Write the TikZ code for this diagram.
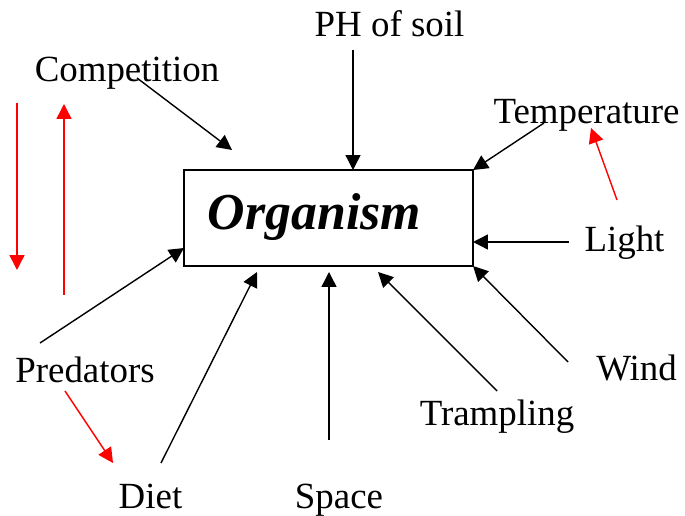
\documentclass[tikz,border=0pt]{standalone}
\usepackage{fontspec}
\setmainfont{Liberation Serif}
\usetikzlibrary{arrows.meta}
\definecolor{ecRed}{HTML}{FF0000}

\begin{document}
\begin{tikzpicture}[x=0.02cm,y=-0.02cm,
      lbl/.style={inner sep=0pt,anchor=base,font=\fontsize{21}{24}\selectfont},
      fac/.style={-{Triangle[length=8.5pt,width=8.5pt]},line width=0.8pt},
      back/.style={-{Triangle[length=8.5pt,width=8.5pt]},line width=0.8pt,ecRed}]
    \useasboundingbox (0,0) rectangle (685,516);

    % the organism in the middle
    \node[draw,line width=0.9pt,minimum width=5.78cm,minimum height=1.92cm,
          inner sep=0pt] (org) at (328.5,218) {};
    \node[inner sep=0pt,anchor=base,font=\fontsize{29.5}{32}\selectfont\bfseries\itshape]
          (orgtxt) at (314.5,230) {Organism};

    % factors around it
    \node[lbl] (comp) at (127,82)    {Competition};
    \node[lbl] (ph)   at (389.5,37)  {PH of soil};
    \node[lbl] (temp) at (586.5,124) {Temperature};
    \node[lbl] (lgt)  at (624.5,252) {Light};
    \node[lbl] (pred) at (85,382)    {Predators};
    \node[lbl] (wind) at (636.5,380) {Wind};
    \node[lbl] (tram) at (497,425)   {Trampling};
    \node[lbl] (diet) at (150.5,508) {Diet};
    \node[lbl] (spc)  at (339,508)   {Space};

    % arrow ends
    \coordinate (compT) at (137,78);  \coordinate (compH) at (232,150);
    \coordinate (phT)   at (353,50);  \coordinate (phH)   at (353,170);
    \coordinate (tempT) at (544,123); \coordinate (tempH) at (473,170);
    \coordinate (lgtT)  at (569,242); \coordinate (lgtH)  at (473,242);
    \coordinate (windT) at (568,362); \coordinate (windH) at (473,266);
    \coordinate (tramT) at (497,391); \coordinate (tramH) at (378,272);
    \coordinate (spcT)  at (329,440); \coordinate (spcH)  at (329,272);
    \coordinate (dietT) at (161,463); \coordinate (dietH) at (257,272);
    \coordinate (predT) at (40,343);  \coordinate (predH) at (184,248);
    \foreach \a/\b in {compT/compH,phT/phH,tempT/tempH,lgtT/lgtH,windT/windH,
                       tramT/tramH,spcT/spcH,dietT/dietH,predT/predH}
      \draw[fac] (\a) -- (\b);

    % red arrows
    \coordinate (dnT) at (17,103);  \coordinate (dnH) at (17,270);
    \coordinate (upT) at (64,295);  \coordinate (upH) at (64,104);
    \coordinate (pdT) at (65,391);  \coordinate (pdH) at (113,463);
    \coordinate (ltT) at (617,200); \coordinate (ltH) at (591,128);
    \foreach \a/\b in {dnT/dnH,upT/upH,pdT/pdH,ltT/ltH}
      \draw[back] (\a) -- (\b);
  \end{tikzpicture}
\end{document}
